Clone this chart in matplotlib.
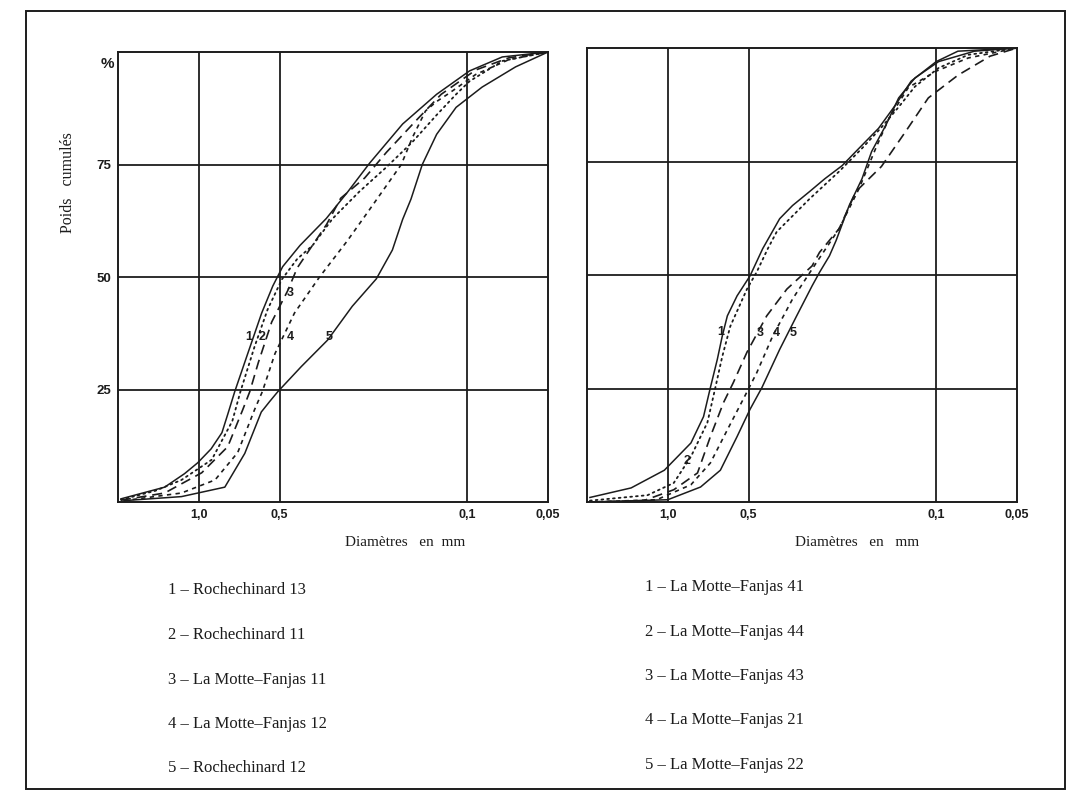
import matplotlib
matplotlib.use("Agg")
import matplotlib.pyplot as plt
from matplotlib.patches import Rectangle

# diameters (mm) and cumulative weight (%)
# left panel
l1_d = [1.95, 1.34, 1.13, 1.01, 0.9, 0.82, 0.78, 0.735, 0.657, 0.583, 0.53, 0.487, 0.42, 0.335, 0.278, 0.231, 0.174, 0.13, 0.098, 0.074, 0.05]
l1_y = [0.7, 3.3, 6.3, 8.7, 11.8, 15.4, 19.5, 24.5, 33, 42, 48, 52.3, 57, 63, 69, 75.3, 84, 90.6, 95.8, 98.9, 100]
l2_d = [1.95, 1.45, 1.16, 0.895, 0.75, 0.70, 0.62, 0.554, 0.49, 0.43, 0.377, 0.317, 0.252, 0.20, 0.16, 0.13, 0.11, 0.098, 0.074, 0.05]
l2_y = [0.5, 2.5, 4.9, 9.4, 18, 24.5, 34.5, 42.8, 49.5, 54, 57, 63, 69, 74.4, 80, 86, 90.6, 93.5, 98, 100]
l3_d = [1.95, 1.34, 0.975, 0.78, 0.686, 0.646, 0.60, 0.535, 0.466, 0.43, 0.334, 0.296, 0.241, 0.20, 0.156, 0.125, 0.093, 0.07, 0.05]
l3_y = [0.4, 2, 6.5, 12.3, 20.5, 24.5, 31, 40, 47, 52, 61.7, 67.5, 72, 77.7, 84.6, 90.6, 96, 98.7, 100]
l4_d = [1.9, 1.16, 0.87, 0.716, 0.62, 0.58, 0.52, 0.44, 0.355, 0.28, 0.231, 0.176, 0.16, 0.143, 0.13, 0.117, 0.093, 0.07, 0.05]
l4_y = [0.3, 2, 4.9, 11, 20.5, 24.5, 33, 42, 50, 58, 65, 75, 81, 86.9, 89, 90.8, 95, 98.3, 100]
l5_d = [1.9, 1.16, 0.80, 0.674, 0.585, 0.545, 0.508, 0.415, 0.331, 0.268, 0.218, 0.19, 0.174, 0.162, 0.147, 0.13, 0.11, 0.088, 0.066, 0.05]
l5_y = [0.3, 1.2, 3.3, 10.8, 20, 22.3, 24.5, 30.1, 36, 43.5, 49.6, 56, 62.8, 67.3, 75, 81.7, 87.7, 92.2, 96.7, 100]

# right panel
r1_d = [1.95, 1.37, 1.03, 0.82, 0.736, 0.694, 0.654, 0.627, 0.60, 0.552, 0.494, 0.443, 0.383, 0.343, 0.296, 0.26, 0.224, 0.194, 0.164, 0.142, 0.124, 0.10, 0.083, 0.05]
r1_y = [1, 3.1, 7, 13, 18.8, 25.2, 31.4, 36.5, 41, 45.4, 49.8, 55.8, 62.4, 65.3, 68.4, 71.2, 74.1, 77.9, 82.3, 87.4, 92.7, 97, 99.3, 100]
r2_d = [1.95, 1.19, 0.95, 0.82, 0.712, 0.665, 0.627, 0.585, 0.507, 0.466, 0.424, 0.393, 0.296, 0.23, 0.189, 0.16, 0.138, 0.12, 0.098, 0.076, 0.05]
r2_y = [0.3, 1.5, 4.2, 10, 17.5, 25.2, 32, 38.7, 46.9, 50.7, 55.8, 59.5, 66.8, 72.8, 77.9, 82.5, 87, 91.5, 95.6, 98.5, 100]
r3_d = [1.95, 1.23, 0.95, 0.775, 0.694, 0.62, 0.57, 0.507, 0.428, 0.36, 0.29, 0.272, 0.23, 0.199, 0.16, 0.13, 0.107, 0.083, 0.063, 0.05]
r3_y = [0, 0.3, 2.7, 6.4, 14.4, 21.9, 26.3, 33, 41, 46.9, 52, 55, 60.2, 68.4, 73.9, 81.6, 89, 94, 98.2, 100]
r4_d = [1.95, 1.1, 0.82, 0.694, 0.60, 0.524, 0.466, 0.407, 0.343, 0.29, 0.23, 0.194, 0.168, 0.15, 0.127, 0.10, 0.076, 0.05]
r4_y = [0, 0.5, 3.8, 8.6, 15.9, 22.6, 28.5, 36.5, 44.7, 51.3, 60.2, 69, 77.9, 84.5, 91.3, 94.9, 97.8, 100]
r5_d = [1.95, 1.0, 0.755, 0.637, 0.552, 0.494, 0.446, 0.383, 0.331, 0.29, 0.272, 0.25, 0.236, 0.211, 0.189, 0.174, 0.154, 0.138, 0.12, 0.098, 0.072, 0.05]
r5_y = [0, 0.5, 3.3, 7, 14.4, 20.4, 25.2, 33.6, 41, 47.6, 50.6, 54.2, 57.6, 65.3, 71.2, 77.2, 83, 89, 93.4, 97, 99.3, 100]

x_ticks = [1.0, 0.5, 0.1, 0.05]
x_labels = ["1,0", "0,5", "0,1", "0,05"]
y_ticks = [25, 50, 75]
y_labels = ["25", "50", "75"]

left_names = ["Rochechinard 13", "Rochechinard 11", "La Motte\u2013Fanjas 11",
              "La Motte\u2013Fanjas 12", "Rochechinard 12"]
right_names = ["La Motte\u2013Fanjas 41", "La Motte\u2013Fanjas 44", "La Motte\u2013Fanjas 43",
               "La Motte\u2013Fanjas 21", "La Motte\u2013Fanjas 22"]

# curve number labels (diameter, %)
left_marks = [("1", 0.652, 36.7), ("2", 0.583, 36.7), ("3", 0.455, 46.5), ("4", 0.455, 36.7), ("5", 0.326, 36.7)]
right_marks = [("1", 0.637, 37.4), ("3", 0.454, 37.2), ("4", 0.393, 37.2), ("5", 0.342, 37.2), ("2", 0.85, 9.1)]

ink = "#1c1c1c"
serif = ["Liberation Serif", "DejaVu Serif"]
sans = ["Liberation Sans", "DejaVu Sans"]

styles = [
    dict(ls="-", lw=1.1),
    dict(ls=(0, (1, 2.2)), lw=1.3, dash_capstyle="round"),
    dict(ls=(0, (6, 3.5)), lw=1.2),
    dict(ls=(0, (2.6, 2.6)), lw=1.2),
    dict(ls="-", lw=1.1),
]

W, H = 1066, 794
fig = plt.figure(figsize=(W / 100, H / 100), dpi=100)


def px_axes(x0, y0, x1, y1):
    return fig.add_axes([x0 / W, 1 - y1 / H, (x1 - x0) / W, (y1 - y0) / H])


def setup(ax, show_y):
    ax.set_xscale("log")
    ax.set_xlim(2.0, 0.05)
    ax.set_ylim(0, 100)
    ax.minorticks_off()
    for v in [1.0, 0.5, 0.1]:
        ax.axvline(v, color=ink, lw=1.3, zorder=1)
    for v in y_ticks:
        ax.axhline(v, color=ink, lw=1.3, zorder=1)
    ax.set_xticks(x_ticks)
    ax.set_xticklabels(x_labels, fontsize=9, fontweight="bold", family=sans, color=ink)
    ax.tick_params(axis="x", length=0, pad=5)
    if show_y:
        ax.set_yticks(y_ticks)
        ax.set_yticklabels(y_labels, fontsize=9.5, fontweight="bold", family=sans, color=ink)
        ax.tick_params(axis="y", length=0, pad=5)
        ax.text(-0.01, 0.99, "%", transform=ax.transAxes, ha="right", va="top",
                fontsize=11, fontweight="bold", family=sans, color=ink)
    else:
        ax.set_yticks([])
    for s in ax.spines.values():
        s.set_linewidth(1.4)
        s.set_color(ink)


axl = px_axes(118, 52, 548, 502)
axr = px_axes(587, 48, 1017, 502)
setup(axl, True)
setup(axr, False)

left_curves = [(l1_d, l1_y), (l2_d, l2_y), (l3_d, l3_y), (l4_d, l4_y), (l5_d, l5_y)]
right_curves = [(r1_d, r1_y), (r2_d, r2_y), (r3_d, r3_y), (r4_d, r4_y), (r5_d, r5_y)]

for (d, y), st in zip(left_curves, styles):
    axl.plot(d, y, color=ink, zorder=3, **st)
for (d, y), st in zip(right_curves, styles):
    axr.plot(d, y, color=ink, zorder=3, **st)

for lab, d, y in left_marks:
    axl.text(d, y, lab, ha="center", va="center", fontsize=9, fontweight="bold",
             family=sans, color=ink, zorder=4)
for lab, d, y in right_marks:
    axr.text(d, y, lab, ha="center", va="center", fontsize=9, fontweight="bold",
             family=sans, color=ink, zorder=4)

fig.text(68 / W, 1 - 183 / H, "Poids   cumul\u00e9s", rotation=90, ha="center", va="center",
         fontsize=11.5, family=serif, color=ink)
fig.text(405 / W, 1 - 543 / H, "Diam\u00e8tres   en  mm", ha="center", va="center",
         fontsize=11, family=serif, color=ink)
fig.text(857 / W, 1 - 542 / H, "Diam\u00e8tres   en   mm", ha="center", va="center",
         fontsize=11, family=serif, color=ink)

left_rows = [590, 635, 680, 724, 768]
right_rows = [587, 632, 676, 720, 765]
for i, (name, row) in enumerate(zip(left_names, left_rows)):
    fig.text(168 / W, 1 - row / H, f"{i + 1} \u2013 {name}", ha="left", va="center",
             fontsize=12, family=serif, color=ink)
for i, (name, row) in enumerate(zip(right_names, right_rows)):
    fig.text(645 / W, 1 - row / H, f"{i + 1} \u2013 {name}", ha="left", va="center",
             fontsize=12, family=serif, color=ink)

# outer frame of the plate
fig.patches.append(Rectangle((26 / W, 1 - 789 / H), (1065 - 26) / W, (789 - 11) / H,
                             transform=fig.transFigure, fill=False, lw=1.4, ec=ink))

fig.savefig("out.png", dpi=100)
